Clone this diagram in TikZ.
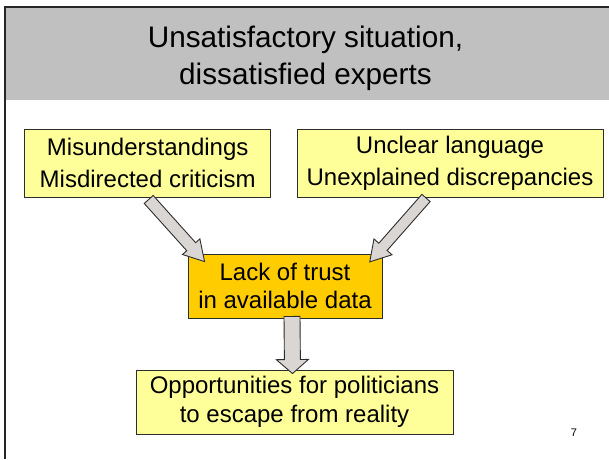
\documentclass[tikz,border=0pt]{standalone}
\usepackage{fontspec}
\setmainfont{Liberation Sans}
\usepackage{tikz}
\usepackage{xcolor}
\usetikzlibrary{calc}
\definecolor{bandgray}{RGB}{192,192,192}
\definecolor{paleyellow}{RGB}{255,255,153}
\definecolor{trustgold}{RGB}{255,204,0}
\definecolor{arrowgray}{RGB}{217,214,211}
\definecolor{edgegray}{RGB}{45,45,45}
\tikzset{
causebox/.style={draw=edgegray,line width=0.9pt,fill=paleyellow,align=center,inner sep=0pt,font=\fontsize{24}{32}\selectfont},
blockarrow/.style={draw=edgegray,line width=0.9pt,fill=arrowgray,line join=miter}
}

\begin{document}
\begin{tikzpicture}[x=1pt,y=-1pt]
\useasboundingbox (0,0) rectangle (609,459);
\fill[bandgray] (4.5,6.5) rectangle (609,100);
\draw[line width=2pt,black!85] (4.5,459) -- (4.5,6.5) -- (609,6.5);
\node[align=center,inner sep=0pt,font=\fontsize{29.7}{37}\selectfont] (title) at (305.5,58) {Unsatisfactory situation,\\dissatisfied experts};
\node[causebox,minimum width=246pt,minimum height=68pt] (mis) at (147.7,163) {Misunderstandings\\Misdirected criticism};
\node[causebox,minimum width=306pt,minimum height=68pt] (unc) at (450,163) {Unclear language\\Unexplained discrepancies};
\node[causebox,fill=trustgold,minimum width=194pt,minimum height=64pt,font=\fontsize{24}{28}\selectfont] (trust) at (285,286) {Lack of trust\\in available data};
\node[causebox,minimum width=317pt,minimum height=64pt,font=\fontsize{24}{29}\selectfont] (opp) at (294.5,402) {Opportunities for politicians\\to escape from reality};
\node[inner sep=0pt,font=\fontsize{11}{13}\selectfont] (page) at (574,433) {7};
\coordinate (misout) at ($(mis.south)+(1,2)$);
\coordinate (misin) at ($(trust.north west)+(17,8)$);
\coordinate (uncout) at ($(unc.south)+(-24,0.5)$);
\coordinate (uncin) at ($(trust.north east)+(-12.7,8.3)$);
\coordinate (trustout) at ($(trust.south)+(7,-2)$);
\coordinate (oppin) at ($(opp.north)+(-2,4)$);
\foreach \a/\b/\w/\h/\l in {misout/misin/6/11.7/20,uncout/uncin/5.5/12/20,trustout/oppin/8/16/14}{
\coordinate (neck) at ($(\b)!\l pt!(\a)$);
\draw[blockarrow] ($(\a)!\w pt!90:(\b)$) -- ($(neck)!\w pt!90:(\b)$) -- ($(neck)!\h pt!90:(\b)$) -- (\b) -- ($(neck)!\h pt!-90:(\b)$) -- ($(neck)!\w pt!-90:(\b)$) -- ($(\a)!\w pt!-90:(\b)$) -- cycle;
}
\end{tikzpicture}
\end{document}
